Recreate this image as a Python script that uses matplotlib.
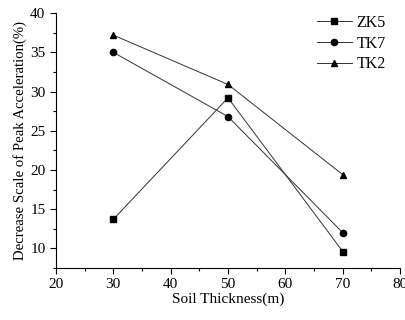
import matplotlib
matplotlib.use("Agg")
import matplotlib.pyplot as plt
from matplotlib.ticker import MultipleLocator

plt.rcParams.update({
    "font.family": "Liberation Serif",
    "mathtext.fontset": "stix",
})

thickness = [30, 50, 70]
zk5 = [13.7, 29.2, 9.6]
tk7 = [35.0, 26.8, 12.0]
tk2 = [37.2, 30.9, 19.4]

fig = plt.figure(figsize=(4.05, 3.2), dpi=100)
ax = fig.add_axes([0.138, 0.1625, 0.85, 0.7965])

ax.plot(thickness, zk5, color="#333333", lw=0.7, marker="s", ms=4,
        mfc="black", mec="black", label="ZK5")
ax.plot(thickness, tk7, color="#333333", lw=0.7, marker="o", ms=4.5,
        mfc="black", mec="black", label="TK7")
ax.plot(thickness, tk2, color="#333333", lw=0.7, marker="^", ms=5,
        mfc="black", mec="black", label="TK2")

ax.set_xlim(20, 80)
ax.set_ylim(7.5, 40)
ax.xaxis.set_major_locator(MultipleLocator(10))
ax.xaxis.set_minor_locator(MultipleLocator(5))
ax.yaxis.set_major_locator(MultipleLocator(5))
ax.yaxis.set_minor_locator(MultipleLocator(2.5))
ax.tick_params(which="both", direction="out", labelsize=11, width=0.8)
ax.tick_params(which="major", length=4)
ax.tick_params(which="minor", length=2)
for s in ("top", "right"):
    ax.spines[s].set_visible(False)
for s in ("left", "bottom"):
    ax.spines[s].set_linewidth(0.8)

ax.set_xlabel("Soil Thickness(m)", fontsize=11, labelpad=1)
ax.set_ylabel("Decrease Scale of Peak Acceleration(%)", fontsize=10.6, labelpad=2)

ax.legend(loc="upper right", bbox_to_anchor=(1.0, 1.05), frameon=False,
          fontsize=11.5, handlelength=2.2, handletextpad=0.3, labelspacing=0.3)

fig.savefig("out.png", dpi=100)
